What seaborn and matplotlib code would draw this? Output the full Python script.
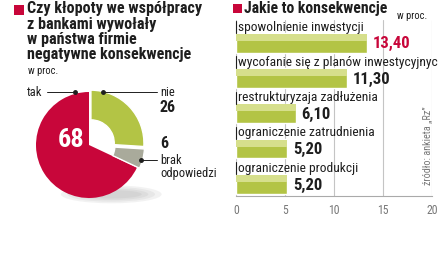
import matplotlib
matplotlib.use('Agg')
import matplotlib.pyplot as plt
import numpy as np
import pandas as pd
import seaborn as sns
from matplotlib.patches import Ellipse, Rectangle

pie_labels = ['tak', 'brak odpowiedzi', 'nie']
pie_values = [68, 6, 26]

bar_labels = ['spowolnienie inwestycji',
              'wycofanie się z planów inwestycyjnych',
              'restrukturyzaja zadłużenia',
              'ograniczenie zatrudnienia',
              'ograniczenie produkcji']
bar_values = [13.40, 11.30, 6.10, 5.20, 5.20]
x_ticks = [0, 5, 10, 15, 20]

RED = '#c8063a'
GREEN = '#b3c445'
LIGHT = '#d6df8c'
GRAY = '#a9aa9b'
DARK = '#1e1e1e'

sns.set_theme(style='white')
plt.rcParams['font.family'] = ['Roboto Condensed', 'DejaVu Sans']

W, H = 439, 268
fig = plt.figure(figsize=(W / 100, H / 100), dpi=100)


def fx(px):
    return px / W


def fy(py):
    return 1 - py / H


# ---- left: pie ----
cx, cy, r = 89, 145, 53
half = 62
pa = fig.add_axes([fx(cx - half), fy(cy + half), 2 * half / W, 2 * half / H])
lim = half / r
for k in range(4):
    pa.add_patch(Ellipse((0.42, -0.93), 1.9 - k * 0.25, 0.34 - k * 0.06,
                         color='#999999', alpha=0.12, lw=0, zorder=0,
                         clip_on=False))
full, _ = pa.pie(pie_values, colors=[RED, GRAY, GREEN], startangle=90,
                 counterclock=True, radius=1, wedgeprops=dict(linewidth=0))
full[1].set_visible(False)
full[2].set_visible(False)
ring, _ = pa.pie(pie_values, colors=[RED, GRAY, GREEN], startangle=90,
                 counterclock=True, radius=1, explode=[0, 0.05, 0.05],
                 wedgeprops=dict(width=0.56, edgecolor='white', linewidth=1))
ring[0].set_visible(False)
pa.set_xlim(-lim, lim)
pa.set_ylim(-lim, lim)
pa.axis('off')
pa.text(-0.34, 0.09, str(pie_values[0]), color='white', fontsize=19,
        weight='bold', ha='center', va='center')

fig.add_artist(Rectangle((fx(14), fy(15)), 10 / W, 10 / H,
                         transform=fig.transFigure, color=RED, lw=0))
title = ['Czy kłopoty we współpracy', 'z bankami wywołały',
         'w państwa firmie', 'negatywne konsekwencje']
for i, line in enumerate(title):
    fig.text(fx(27), fy(9 + i * 15.3), line, fontsize=11.6, weight='bold',
             color=DARK, va='center', ha='left')
fig.text(fx(28), fy(71), 'w proc.', fontsize=7.5, color=DARK, va='center')

# callouts
fig.text(fx(27), fy(92), pie_labels[0], fontsize=9, color=DARK, va='center')
fig.add_artist(plt.Line2D([fx(47), fx(75)], [fy(92), fy(92)], color=DARK, lw=0.7))
fig.add_artist(plt.Line2D([fx(75)], [fy(92)], marker='o', ms=2.5, color=DARK))
fig.text(fx(160), fy(92), pie_labels[2], fontsize=9, color=DARK, va='center')
fig.add_artist(plt.Line2D([fx(103), fx(157)], [fy(92), fy(92)], color=DARK, lw=0.7))
fig.add_artist(plt.Line2D([fx(103)], [fy(92)], marker='o', ms=2.5, color=DARK))
fig.text(fx(160), fy(108), str(pie_values[2]), fontsize=11.5, weight='bold',
         color=DARK, va='center')
fig.text(fx(160), fy(144), str(pie_values[1]), fontsize=11.5, weight='bold',
         color=DARK, va='center')
fig.text(fx(160), fy(160), 'brak', fontsize=9, color=DARK, va='center')
fig.text(fx(160), fy(173), 'odpowiedzi', fontsize=9, color=DARK, va='center')
fig.add_artist(plt.Line2D([fx(141), fx(157)], [fy(160), fy(160)], color=DARK, lw=0.7))
fig.add_artist(plt.Line2D([fx(141)], [fy(160)], marker='o', ms=2.5, color=DARK))

# ---- right: bars ----
ax = fig.add_axes([fx(236), fy(196), 196 / W, 176 / H])
df = pd.DataFrame({'label': bar_labels, 'value': bar_values})
sns.barplot(data=df, x='value', y='label', orient='h', color=GREEN,
            saturation=1, width=0.55, ax=ax, zorder=2)
ax.barh(np.arange(len(bar_values)) - 0.16, bar_values, height=0.2,
        color=LIGHT, lw=0, zorder=3)
ax.set_xlim(0, 20)
ax.set_ylim(4.34, -0.65)
ax.set_yticks([])
ax.set_xlabel('')
ax.set_ylabel('')
ax.set_xticks(x_ticks)
ax.tick_params(axis='x', length=0, pad=6, labelsize=8.5, labelcolor='#777777')
ax.xaxis.grid(True, color='#c4c4c4', lw=0.8)
ax.set_axisbelow(True)
for s in ['top', 'right', 'left']:
    ax.spines[s].set_visible(False)
ax.spines['bottom'].set_color('#aaaaaa')
ax.spines['bottom'].set_linewidth(0.8)

for i, (lab, v) in enumerate(zip(bar_labels, bar_values)):
    ax.text(0.25, i - 0.45, lab, fontsize=9.7, color=DARK, va='center',
            ha='left', clip_on=False)
    ax.plot([0.05, 0.05], [i - 0.62, i - 0.28], color=DARK, lw=0.8,
            clip_on=False, zorder=4)
    ax.text(v + 0.6, i + 0.03, f'{v:.2f}'.replace('.', ','), fontsize=12,
            weight='bold', color=RED if i == 0 else DARK, va='center',
            ha='left')

fig.add_artist(Rectangle((fx(233), fy(13)), 9 / W, 9 / H,
                         transform=fig.transFigure, color=RED, lw=0))
fig.text(fx(244), fy(8), 'Jakie to konsekwencje', fontsize=11.3,
         weight='bold', color=DARK, va='center')
fig.text(fx(397), fy(16), 'w proc.', fontsize=7.5, color=DARK, va='center')
fig.text(fx(427), fy(146), 'źródło: ankieta „Rz”', fontsize=7.3,
         color='#777777', rotation=90, ha='center', va='center')

fig.savefig('out.png', dpi=100, facecolor='white')
